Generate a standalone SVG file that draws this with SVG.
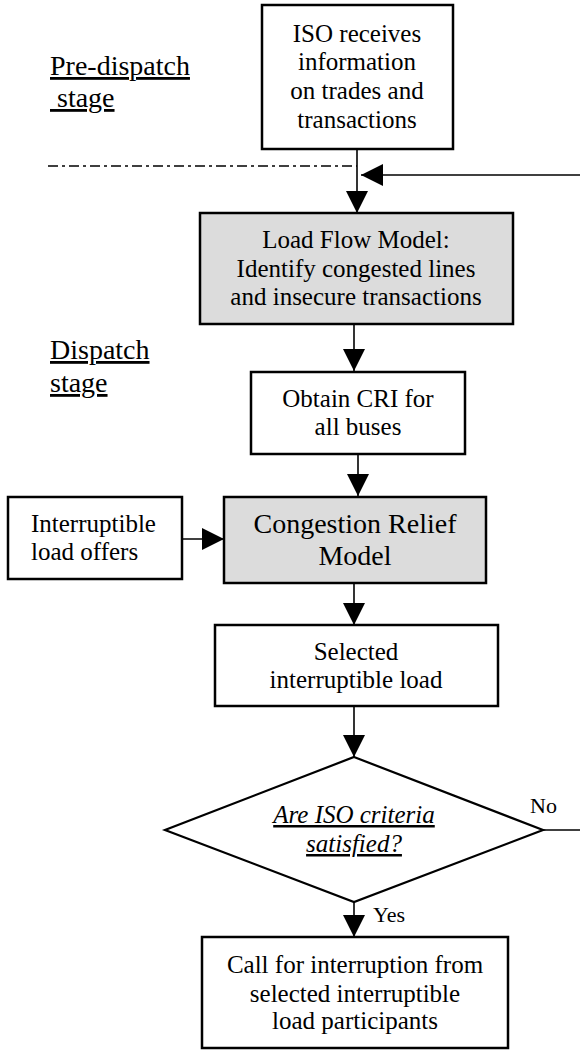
<svg xmlns="http://www.w3.org/2000/svg" width="580" height="1050" viewBox="0 0 580 1050">
<style>
.box{fill:#fff;stroke:#000;stroke-width:2.5}
.grey{fill:#dcdcdc;stroke:#000;stroke-width:2.5}
.t{font-family:'Liberation Serif','Times New Roman',Times,'DejaVu Serif',serif;font-size:25px;fill:#000;text-anchor:middle}
.big{font-size:28px}
.lbl{font-family:'Liberation Serif','Times New Roman',Times,'DejaVu Serif',serif;font-size:28px;fill:#000;text-decoration:underline}
.small{font-family:'Liberation Serif','Times New Roman',Times,'DejaVu Serif',serif;font-size:22px;fill:#000}
.it{font-style:italic;text-decoration:underline}
.c{fill:none;stroke:#000;stroke-width:1.6}
</style>
<defs>
<marker id="ah" viewBox="0 0 22 22" markerWidth="22" markerHeight="22" refX="22" refY="11" orient="auto" markerUnits="userSpaceOnUse">
<path d="M0,0 L22,11 L0,22 Z" fill="#000"/>
</marker>
</defs>

<g id="labels">
<text class="lbl" x="50" y="75">Pre-dispatch</text>
<text class="lbl" x="50" y="107" xml:space="preserve"> stage</text>
<text class="lbl" x="50" y="359">Dispatch</text>
<text class="lbl" x="50" y="392">stage</text>
</g>

<g id="connectors">
<line x1="48" y1="166" x2="357" y2="166" stroke="#000" stroke-width="1.6" stroke-dasharray="10 4 3 4"/>
<line class="c" x1="357" y1="149" x2="357" y2="213" marker-end="url(#ah)"/>
<line class="c" x1="580" y1="175" x2="361" y2="175" marker-end="url(#ah)"/>
<line class="c" x1="354" y1="324" x2="354" y2="371" marker-end="url(#ah)"/>
<line class="c" x1="358" y1="454" x2="358" y2="496" marker-end="url(#ah)"/>
<line class="c" x1="182" y1="539" x2="224" y2="539" marker-end="url(#ah)"/>
<line class="c" x1="354" y1="583" x2="354" y2="625" marker-end="url(#ah)"/>
<line class="c" x1="354" y1="706" x2="354" y2="757" marker-end="url(#ah)"/>
<line class="c" x1="354" y1="902" x2="354" y2="937" marker-end="url(#ah)"/>
<line class="c" x1="543" y1="830" x2="580" y2="830"/>
<text class="small" x="530" y="813">No</text>
<text class="small" x="373" y="922">Yes</text>
</g>

<g id="iso">
<rect class="box" x="262" y="5" width="191" height="144"/>
<text class="t" x="357" y="42">ISO receives</text>
<text class="t" x="357" y="70">information</text>
<text class="t" x="357" y="99">on trades and</text>
<text class="t" x="357" y="128">transactions</text>
</g>

<g id="loadflow">
<rect class="grey" x="200" y="213" width="313" height="111"/>
<text class="t" x="356" y="248">Load Flow Model:</text>
<text class="t" x="356" y="277">Identify congested lines</text>
<text class="t" x="356" y="305">and insecure transactions</text>
</g>

<g id="cri">
<rect class="box" x="251" y="372" width="214" height="82"/>
<text class="t" x="358" y="407">Obtain CRI for</text>
<text class="t" x="358" y="435">all buses</text>
</g>

<g id="offers">
<rect class="box" x="8" y="497" width="174" height="82"/>
<text class="t" x="31" y="532" style="text-anchor:start">Interruptible</text>
<text class="t" x="31" y="560" style="text-anchor:start">load offers</text>
</g>

<g id="crm">
<rect class="grey" x="224" y="497" width="262" height="86"/>
<text class="t big" x="355" y="533">Congestion Relief</text>
<text class="t big" x="355" y="565">Model</text>
</g>

<g id="selected">
<rect class="box" x="215" y="625" width="283" height="81"/>
<text class="t" x="356" y="660">Selected</text>
<text class="t" x="356" y="688">interruptible load</text>
</g>

<g id="decision">
<polygon points="354,757 543,830 354,902 165,830" fill="#fff" stroke="#000" stroke-width="2.2"/>
<text class="t it" x="354" y="823">Are ISO criteria</text>
<text class="t it" x="354" y="852">satisfied?</text>
</g>

<g id="call">
<rect class="box" x="202" y="937" width="306" height="111"/>
<text class="t" x="355" y="973">Call for interruption from</text>
<text class="t" x="355" y="1002">selected interruptible</text>
<text class="t" x="355" y="1029">load participants</text>
</g>
</svg>
